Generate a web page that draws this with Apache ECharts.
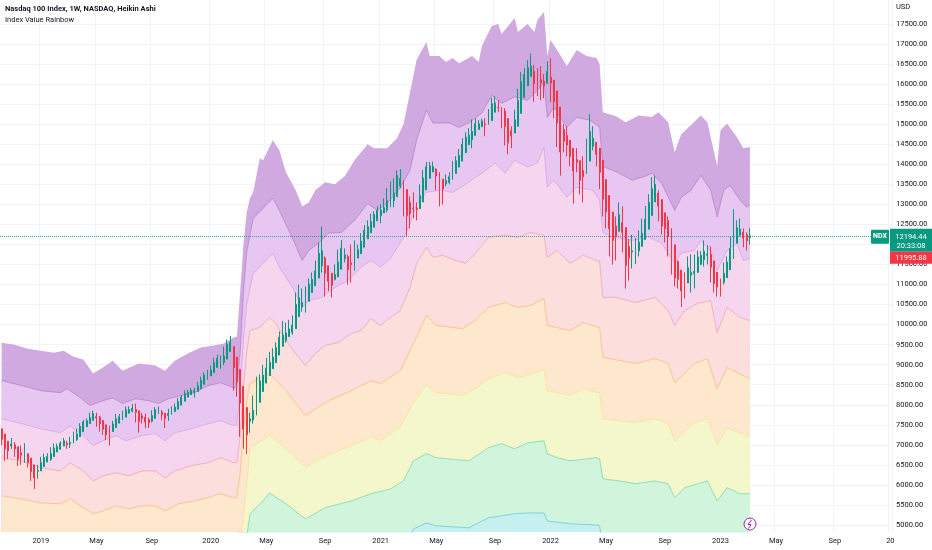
<!DOCTYPE html>
<html>
<head>
<meta charset="utf-8">
<script src="https://cdn.jsdelivr.net/npm/echarts@6/dist/echarts.min.js"></script>
<style>
  html, body { margin: 0; padding: 0; background: #ffffff; }
  #main { width: 932px; height: 550px; }
</style>
</head>
<body>
<div id="main"></div>
<script>
// weekly Heikin Ashi bars of NDX, first bar = week of 2018-10-15
var startWeek = '2018-10-15';
var weekCount = 273; // axis runs on to the first week of 2024

var haOpen = [
  7400,7270,7090,6970,7000,6950,6800,6770,6780,6670,6500,6340,
  6350,6460,6570,6640,6710,6820,6890,6970,7040,7020,7040,7130,
  7200,7330,7450,7530,7610,7700,7690,7610,7500,7380,7330,7430,
  7540,7620,7690,7790,7840,7880,7850,7720,7690,7630,7590,7660,
  7770,7820,7790,7730,7760,7830,7890,7990,8090,8190,8250,8310,
  8330,8400,8510,8630,8720,8800,8930,9050,9060,9140,9330,9450,
  9190,8880,8460,7930,7590,7620,7740,8060,8330,8540,8730,8900,
  9050,9240,9460,9600,9700,9800,9900,10200,10440,10500,10580,10800,
  10970,11160,11470,11660,11470,11280,11130,11190,11380,11650,11700,11540,
  11520,11660,11770,11930,12140,12290,12430,12590,12720,12790,12860,12980,
  13090,13190,13460,13560,13370,13050,12910,12910,12890,13060,13360,13650,
  13810,13880,13800,13630,13510,13550,13620,13770,13930,14080,14290,14490,
  14610,14720,14870,14940,15010,15000,15090,15300,15420,15420,15330,15140,
  14840,14780,14950,15270,15670,15960,16190,16320,16170,16110,16070,16020,
  16170,16100,15830,15430,14870,14720,14600,14400,14120,14090,13850,13770,
  14080,14450,14550,14400,14100,13620,13220,12810,12460,12330,12540,12420,
  11950,11810,11830,11840,11950,12120,12380,12720,13060,13280,13120,12790,
  12600,12400,11990,11580,11360,11100,11040,11230,11270,11300,11500,11620,
  11730,11750,11590,11310,11130,11050,11170,11370,11640,12030,12230,12310,
  12240,12170
];
var haClose = [
  7140,6900,6850,7020,6900,6640,6740,6780,6560,6330,6170,6360,
  6560,6680,6710,6780,6920,6960,7040,7100,7000,7060,7220,7270,
  7460,7570,7600,7680,7780,7670,7530,7390,7250,7270,7520,7650,
  7700,7760,7880,7880,7910,7810,7580,7660,7570,7550,7730,7880,
  7860,7750,7660,7780,7890,7940,8080,8190,8280,8310,8360,8350,
  8470,8610,8740,8800,8870,9050,9160,9070,9210,9510,9560,8930,
  8570,8040,7390,7250,7650,7860,8380,8600,8740,8920,9060,9190,
  9430,9680,9740,9790,9890,9990,10500,10670,10550,10650,11010,11130,
  11340,11780,11840,11280,11080,10980,11250,11560,11910,11740,11370,11500,
  11800,11870,12080,12350,12440,12570,12750,12850,12850,12920,13090,13200,
  13280,13720,13650,13180,12720,12770,12900,12870,13220,13660,13940,13960,
  13940,13710,13460,13380,13590,13690,13910,14090,14220,14500,14680,14730,
  14820,15010,15010,15080,14990,15180,15510,15530,15410,15230,14940,14540,
  14710,15110,15590,16060,16240,16410,16450,16010,16040,16030,15960,16320,
  16030,15560,15030,14310,14570,14480,14200,13830,14050,13600,13690,14390,
  14820,14650,14250,13800,13130,12810,12390,12100,12200,12740,12300,11480,
  11660,11840,11850,12060,12280,12630,13050,13390,13500,12960,12460,12400,
  12190,11570,11160,11130,10840,10980,11420,11300,11330,11690,11730,11830,
  11760,11430,11020,10940,10960,11280,11560,11900,12410,12420,12380,12160,
  12090,12220
];
var haLow = [
  6990,6600,6640,6900,6700,6470,6500,6550,6440,6100,5900,6150,
  6350,6460,6570,6600,6710,6820,6890,6970,6900,6920,7040,7100,
  7200,7330,7450,7530,7610,7450,7330,7250,7120,6980,7330,7430,
  7540,7620,7690,7790,7810,7560,7300,7530,7410,7420,7560,7660,
  7770,7620,7420,7600,7760,7830,7890,7990,8090,8190,8250,8180,
  8330,8400,8510,8630,8720,8800,8930,8900,8990,9140,9330,8350,
  8200,7200,6900,6770,7300,7530,7740,8060,8330,8540,8730,8900,
  9050,9240,9450,9550,9700,9750,9900,10200,10320,10300,10580,10800,
  10970,11160,11300,10700,10840,10680,11100,11190,11380,11550,11000,11050,
  11350,11660,11770,11930,12140,12290,12430,12590,12530,12780,12800,12930,
  12930,13190,13400,12700,12200,12400,12650,12600,12890,13060,13360,13650,
  13810,13350,12950,13000,13450,13500,13620,13770,13930,14080,14290,14490,
  14400,14720,14870,14940,14700,14980,15090,15300,15300,14900,14470,14250,
  14400,14780,14950,15270,15670,15960,16190,15560,15700,15600,15650,16020,
  15550,15150,14430,13720,14300,14200,13950,13020,13800,13250,13050,13770,
  14080,14350,13950,13380,12700,12400,11700,11500,11600,12330,11800,10900,
  11100,11400,11510,11700,11950,12120,12380,12720,13060,12580,12250,12050,
  11700,11250,10950,10900,10440,10650,11040,10800,10900,11300,11500,11450,
  11500,11050,10800,10700,10700,11000,11170,11370,11640,12030,12200,11930,
  11850,12000
];
var haHigh = [
  7400,7270,7090,7170,7070,6950,6980,7040,6780,6670,6500,6500,
  6700,6780,6790,6940,7030,7030,7090,7170,7100,7200,7330,7400,
  7540,7620,7660,7800,7850,7800,7720,7610,7500,7480,7600,7770,
  7770,7850,7960,7960,8020,8030,7850,7800,7780,7680,7860,7940,
  7960,7870,7790,7900,7960,8030,8170,8240,8360,8370,8420,8420,
  8570,8700,8810,8870,8980,9170,9250,9230,9450,9630,9720,9450,
  9190,8880,8460,7930,7800,8230,8700,8760,9000,9170,9320,9410,
  9560,9830,10090,10050,10120,10230,10800,11000,10900,10950,11150,11300,
  11600,12050,12440,11700,11470,11280,11500,11870,12110,11900,11750,12000,
  12100,12000,12280,12480,12600,12770,12830,12950,13000,13150,13400,13570,
  13650,13850,13880,13600,13370,13200,13300,13050,13500,13860,14060,14060,
  14070,13900,13800,13630,13750,13800,14080,14200,14380,14650,14800,14900,
  15120,15150,15100,15140,15150,15380,15660,15700,15600,15420,15400,15140,
  14950,15360,15880,16300,16400,16600,16760,16480,16400,16450,16250,16570,
  16650,16100,15830,15430,15000,14950,14600,14400,14400,14090,14200,14640,
  15250,14950,14550,14400,14100,13620,13220,12810,12700,13050,12950,12420,
  12140,12240,12160,12350,12640,12960,13250,13680,13720,13350,13120,12790,
  12700,12400,11990,11600,11360,11300,11700,11750,11750,11850,11830,12100,
  11980,11950,11590,11310,11150,11550,11700,12200,12880,12600,12650,12400,
  12300,12400
];

var lastPrice = 12194.44;
var prevPrice = 11995.88;
var yTicks = [5000,5500,6000,6500,7000,7500,8000,8500,9000,9500,10000,10500,11000,
  11500,12000,12500,13000,13500,14000,14500,15000,15500,16000,16500,17000,17500];

// rainbow lines, [week index, value]
var bandTop = [[0,9550],[4,9500],[8,9400],[12,9350],[16,9300],[19,9350],[22,9200],[25,9130],[28,8780],[31,8930],[34,9100],[37,8850],[42,9030],[47,8980],[50,8850],[53,9100],[57,9280],[61,9430],[65,9480],[68,9530],[71,9680],[72,9700],
  [73,10800],[74,12000],[75,12800],[76,13150],[77,13300],[79,14150],[80,14100],[83,14600],[85,14350],[87,13800],[90,13350],[92,12950],[94,13050],[96,13350],[99,13550],[102,13500],[105,13700],[108,14100],[112,14500],[114,14400],[118,14400],[121,14650],[123,15000],[125,15800],[127,16600],[130,17050],[131,16700],[134,16700],[136,16550],[138,16650],[140,16520],[144,16700],[146,16550],[147,16950],[150,17450],[152,17500],[153,17250],[157,17650],[158,17300],[161,17500],[163,17300],[164,17600],[166,17800],[167,16700],[168,17100],[170,16850],[173,16450],[176,16850],[179,16700],[182,16650],[183,16500],[184,15300],[188,15200],[191,15050],[195,15220],[199,15180],[201,15300],[204,15050],[206,14300],[208,14750],[211,14980],[214,15220],[216,15050],[219,13950],[220,14850],[222,15020],[225,14680],[227,14400],[229,14430]];
var bandPurple = [[0,8600],[6,8480],[12,8350],[18,8300],[20,8400],[24,8180],[27,7980],[31,8100],[34,8170],[37,8030],[41,8150],[45,8100],[48,8030],[51,8150],[55,8230],[59,8300],[63,8470],[67,8550],[71,8420],[72,8450],
  [73,9300],[74,10800],[75,11800],[77,12650],[80,12900],[83,13150],[85,12850],[89,12150],[92,11600],[94,11850],[97,12030],[100,12280],[104,12300],[108,12600],[112,13020],[115,12850],[118,13020],[122,13420],[125,13850],[127,14600],[130,15350],[132,15030],[137,15030],[140,14920],[143,15030],[147,15280],[150,15720],[153,15520],[157,15680],[161,15600],[164,15850],[166,16030],[167,15170],[169,15420],[173,14920],[176,15170],[180,15100],[183,14930],[184,13950],[189,13780],[193,13600],[197,13700],[199,13780],[202,13520],[206,12850],[208,13170],[211,13350],[214,13720],[217,13350],[219,12680],[221,13350],[223,13470],[226,13100],[228,12930],[229,12980]];
var bandViolet = [[0,7650],[6,7530],[12,7400],[18,7300],[21,7470],[25,7230],[28,6980],[31,7100],[35,7230],[38,7100],[43,7230],[47,7280],[50,7100],[53,7300],[58,7400],[63,7520],[67,7600],[71,7480],[72,7500],
  [73,8300],[74,9600],[75,10500],[77,11270],[83,11780],[85,11430],[89,10930],[92,10430],[94,10600],[98,10680],[102,10920],[106,11100],[110,11430],[113,11600],[116,11430],[119,11650],[123,12180],[125,12500],[127,13000],[130,13300],[134,13350],[138,13300],[141,13450],[147,13780],[151,14030],[154,13780],[157,14100],[161,13930],[164,14030],[166,14430],[167,13430],[169,13600],[173,13180],[176,13430],[181,13350],[183,13100],[184,12300],[187,12180],[193,12100],[198,12180],[202,12030],[206,11530],[208,11780],[212,11850],[214,12100],[217,11850],[219,11350],[222,11850],[225,12030],[227,11600],[229,11650]];
var bandPink = [[0,6680],[6,6600],[12,6430],[18,6350],[21,6550],[25,6350],[28,6100],[31,6230],[35,6300],[39,6230],[43,6350],[47,6350],[50,6180],[53,6350],[58,6480],[63,6550],[67,6680],[71,6550],[72,6570],
  [73,7200],[74,8400],[75,9300],[76,9850],[79,9930],[82,10180],[84,10030],[87,9600],[90,9280],[93,8980],[96,9280],[99,9480],[103,9550],[107,9780],[110,9850],[113,10150],[116,9980],[119,10180],[122,10350],[125,10930],[127,11530],[130,11930],[132,11680],[135,11730],[139,11600],[142,11530],[145,11780],[149,12180],[154,12230],[158,12180],[162,12300],[166,12230],[167,11680],[170,11850],[174,11530],[178,11730],[182,11600],[183,11580],[184,10680],[188,10680],[194,10550],[200,10680],[204,10350],[206,9980],[209,10350],[213,10530],[217,10600],[219,9800],[222,10430],[226,10180],[229,10100]];
var bandOrange = [[0,5730],[6,5650],[12,5550],[18,5530],[21,5650],[25,5430],[28,5280],[31,5350],[35,5480],[39,5400],[43,5480],[47,5480],[50,5350],[54,5530],[59,5600],[63,5680],[67,5780],[71,5680],[72,5700],
  [73,6300],[74,7400],[75,8100],[76,8530],[82,8780],[87,8350],[93,7730],[100,8100],[107,8350],[113,8600],[116,8530],[122,8850],[126,9530],[130,10230],[133,9980],[141,9900],[145,10100],[149,10430],[154,10550],[158,10430],[162,10480],[166,10650],[167,9980],[174,9850],[178,10050],[183,9930],[184,9180],[194,9030],[200,9150],[204,9030],[206,8550],[212,9030],[216,9150],[219,8400],[222,8930],[229,8650]];
var bandYellow = [[72,3900],[74,5200],[75,6000],[76,6900],[82,7250],[87,6900],[93,6450],[100,6750],[107,6980],[113,7200],[116,7100],[122,7450],[126,8050],[130,8500],[133,8300],[141,8230],[145,8400],[149,8650],[154,8800],[158,8680],[162,8760],[166,8870],[167,8350],[174,8230],[178,8380],[183,8300],[184,7650],[194,7550],[200,7650],[204,7530],[206,7100],[212,7550],[216,7650],[219,7000],[222,7420],[229,7200]];
var bandGreen = [[72,2500],[74,3800],[75,4700],[76,5280],[80,5600],[82,5800],[87,5530],[93,5150],[99,5430],[107,5600],[113,5780],[119,5900],[123,6100],[126,6600],[130,6780],[133,6680],[143,6600],[149,6930],[153,7030],[157,6900],[161,7050],[166,7100],[167,6780],[170,6680],[174,6600],[182,6680],[183,6650],[184,6150],[189,6100],[194,6030],[200,6100],[204,6030],[206,5680],[209,5930],[216,6100],[219,5600],[222,5930],[226,5780],[229,5780]];
var bandTeal = [[72,1000],[76,3600],[82,3900],[93,3500],[107,3900],[119,4300],[124,4500],[126,4900],[130,5050],[133,4980],[143,4930],[149,5180],[153,5230],[157,5280],[161,5300],[166,5300],[167,5100],[174,5030],[182,5000],[183,4980],[184,4500],[229,4100]];

var categories = [];
var d0 = new Date(startWeek + 'T00:00:00Z');
for (var i = 0; i < weekCount; i++) {
  categories.push(new Date(d0.getTime() + i * 7 * 86400000).toISOString().slice(0, 10));
}

function isLabelWeek(value) {
  var m = +value.slice(5, 7), day = +value.slice(8, 10);
  return (m === 1 || m === 5 || m === 9) && day <= 7;
}

var candles = haOpen.map(function (o, i) {
  return [o, haClose[i], haLow[i], haHigh[i]];
});

var bands = [
  { data: bandTop, fill: '#cfa9df', line: 'rgba(0,0,0,0)' },
  { data: bandPurple, fill: '#e7c7f1', line: 'rgba(150,70,170,0.35)' },
  { data: bandViolet, fill: '#f6d5ee', line: 'rgba(200,110,210,0.35)' },
  { data: bandPink, fill: '#fcdedc', line: 'rgba(235,125,145,0.45)' },
  { data: bandOrange, fill: '#fde8cd', line: 'rgba(245,175,90,0.55)' },
  { data: bandYellow, fill: '#f4f6cc', line: 'rgba(240,215,90,0.35)' },
  { data: bandGreen, fill: '#d0f5dc', line: 'rgba(90,210,160,0.6)' },
  { data: bandTeal, fill: '#c6eff0', line: 'rgba(80,190,205,0.6)' }
];

var series = bands.map(function (b) {
  return {
    type: 'line',
    data: b.data,
    symbol: 'none',
    silent: true,
    animation: false,
    z: 1,
    lineStyle: { width: 1, color: b.line },
    areaStyle: { color: b.fill, opacity: 1, origin: 'start' }
  };
});

series.push({
  type: 'candlestick',
  data: candles,
  z: 5,
  barWidth: 1.4,
  animation: false,
  itemStyle: {
    color: '#089981',
    color0: '#f23645',
    borderColor: '#089981',
    borderColor0: '#f23645',
    borderWidth: 1
  },
  markLine: {
    symbol: 'none',
    silent: true,
    animation: false,
    label: { show: false },
    lineStyle: { color: '#089981', type: 'dotted', width: 1, opacity: 0.8 },
    data: [{ yAxis: lastPrice }]
  }
});

var chart = echarts.init(document.getElementById('main'));
var font = 'Roboto, sans-serif';

chart.setOption({
  backgroundColor: '#ffffff',
  animation: false,
  grid: { left: -2, right: 40, top: 0, bottom: 18, containLabel: false },
  xAxis: {
    type: 'category',
    data: categories,
    boundaryGap: true,
    axisLine: { show: false },
    axisTick: { show: false, interval: function (i, v) { return isLabelWeek(v); } },
    splitLine: { show: true, interval: function (i, v) { return isLabelWeek(v); }, lineStyle: { color: '#f0f3fa' } },
    axisLabel: {
      interval: function (i, v) { return isLabelWeek(v); },
      margin: 5,
      fontSize: 7.5,
      fontFamily: font,
      color: '#131722',
      formatter: function (v) {
        var m = +v.slice(5, 7);
        if (m === 5) return 'May';
        if (m === 9) return 'Sep';
        var y = v.slice(0, 4);
        return y === '2024' ? '20' : y;
      }
    }
  },
  yAxis: {
    type: 'value',
    position: 'right',
    min: 4825,
    max: 18100,
    axisLine: { show: false },
    axisTick: { show: false, customValues: yTicks },
    splitLine: { show: true, lineStyle: { color: '#f0f3fa' } },
    axisLabel: {
      customValues: yTicks,
      margin: 4,
      fontSize: 7.5,
      fontFamily: font,
      color: '#131722',
      formatter: function (v) { return v.toFixed(2); }
    }
  },
  series: series
});

var py = chart.convertToPixel({ yAxisIndex: 0 }, lastPrice);
chart.setOption({
  graphic: [
    { type: 'text', left: 5, top: 5, z: 100, style: { text: 'Nasdaq 100 Index, 1W, NASDAQ, Heikin Ashi', fontSize: 7.5, fontWeight: 'bold', fontFamily: font, fill: '#131722' } },
    { type: 'text', left: 5, top: 16, z: 100, style: { text: 'Index Value Rainbow', fontSize: 7.5, fontFamily: font, fill: '#131722' } },
    { type: 'text', left: 896, top: 3, z: 100, style: { text: 'USD', fontSize: 7.5, fontFamily: font, fill: '#131722' } },
    { type: 'rect', shape: { x: 871, y: py - 7, width: 18, height: 14, r: 1 }, z: 100, style: { fill: '#089981' } },
    { type: 'text', x: 880, y: py, z: 101, style: { text: 'NDX', fontSize: 7, fontWeight: 'bold', fontFamily: font, fill: '#ffffff', align: 'center', verticalAlign: 'middle' } },
    { type: 'rect', shape: { x: 890, y: py - 8, width: 42, height: 23 }, z: 100, style: { fill: '#089981' } },
    { type: 'text', x: 911, y: py, z: 101, style: { text: lastPrice.toFixed(2), fontSize: 7.5, fontFamily: font, fill: '#ffffff', align: 'center', verticalAlign: 'middle' } },
    { type: 'text', x: 911, y: py + 9, z: 101, style: { text: '20:33:08', fontSize: 7.5, fontFamily: font, fill: '#ffffff', align: 'center', verticalAlign: 'middle' } },
    { type: 'rect', shape: { x: 890, y: py + 15, width: 42, height: 12 }, z: 100, style: { fill: '#f23645' } },
    { type: 'text', x: 911, y: py + 21, z: 101, style: { text: prevPrice.toFixed(2), fontSize: 7.5, fontFamily: font, fill: '#ffffff', align: 'center', verticalAlign: 'middle' } },
    { type: 'circle', shape: { cx: 750, cy: 524, r: 6 }, z: 100, style: { fill: '#ffffff', stroke: '#9c27b0', lineWidth: 1 } },
    { type: 'polyline', shape: { points: [[751.5, 520], [748, 524.5], [751, 524.5], [748.5, 528.5]] }, z: 101, style: { stroke: '#9c27b0', fill: null, lineWidth: 1 } }
  ]
});
</script>
</body>
</html>
